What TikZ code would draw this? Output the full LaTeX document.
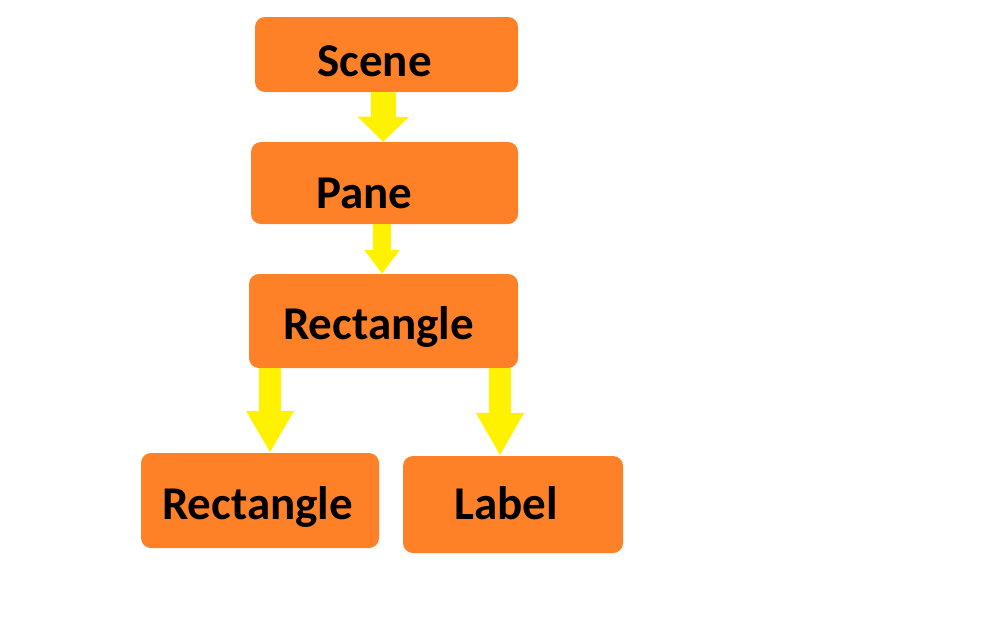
\documentclass[tikz,border=0pt]{standalone}
\usepackage{fontspec}
\setmainfont{Carlito}
\usetikzlibrary{arrows.meta,calc}
\definecolor{boxorange}{RGB}{254,128,39}
\definecolor{arrowyellow}{RGB}{255,242,0}
\tikzset{
  blk/.style={fill=boxorange, rounded corners=10pt, text height=30pt, text depth=0pt,
    inner sep=0pt, font=\bfseries\fontsize{47}{56}\selectfont},
  flow/.style n args={3}{draw=arrowyellow, line width=#1, -{Triangle[width=#2,length=#3]}}
}
\begin{document}
\begin{tikzpicture}[x=1pt,y=-1pt]
      \useasboundingbox (0,0) rectangle (1008,630);
      \node[blk, minimum width=263pt, minimum height=75pt] (scene) at (386.5,54.5)
        {\raisebox{-7pt}{Scene}\kern24pt};
      \node[blk, minimum width=267pt, minimum height=82pt] (pane) at (384.5,183)
        {\raisebox{-10pt}{Pane}\kern40pt};
      \node[blk, minimum width=269pt, minimum height=94pt] (rect) at (383.5,321)
        {\raisebox{-3.5pt}{Rectangle}\kern10pt};
      \node[blk, minimum width=238pt, minimum height=95pt] (rectl) at (260,500.5)
        {\raisebox{-4pt}{Rectangle}\kern5pt};
      \node[blk, minimum width=220pt, minimum height=97pt] (label) at (513,504.5)
        {Label\kern14pt};
      \begin{scope}
        \draw[flow={25pt}{50pt}{25pt}] ($(scene.south)+(-3,0)$) -- ($(pane.north)+(-1.5,0)$);
        \draw[flow={18pt}{34pt}{24pt}] ($(pane.south)+(-2.5,0)$) -- ($(rect.north)+(-1.5,0)$);
        \draw[flow={22pt}{45pt}{42pt}] ($(rect.south -| rectl.north)+(10,0)$) -- ($(rectl.north)+(10,0)$);
        \draw[flow={22pt}{45pt}{43pt}] ($(rect.south -| label.north)+(-13,0)$) -- ($(label.north)+(-13,0)$);
      \end{scope}
    \end{tikzpicture}
\end{document}
